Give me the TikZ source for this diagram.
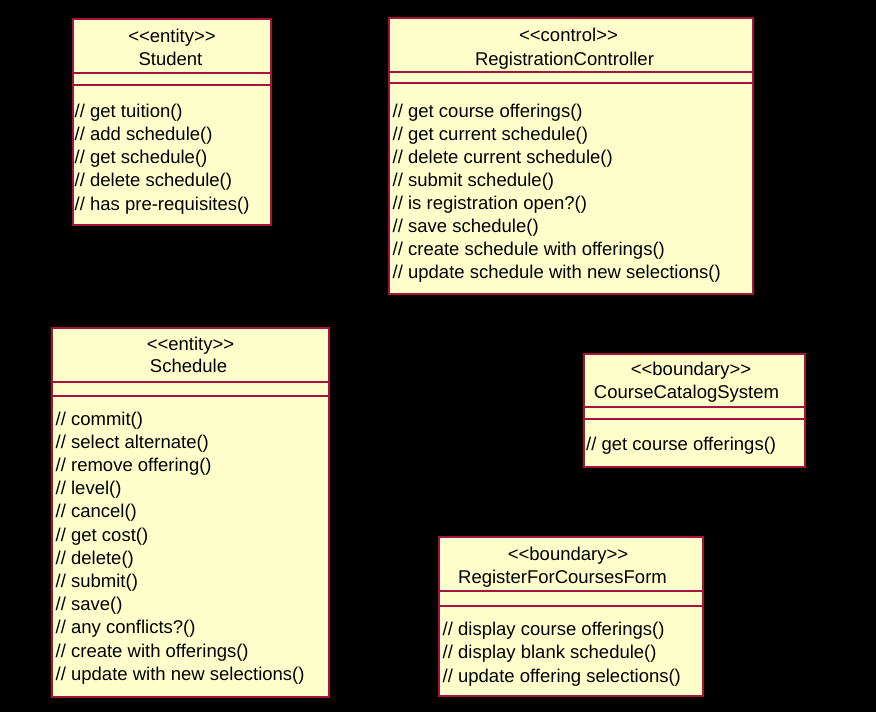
\documentclass[tikz,border=0pt]{standalone}
\usepackage{fontspec}
\newfontfamily\umlfont{Liberation Sans}
\definecolor{umlborder}{RGB}{165,20,60}
\definecolor{umlfill}{RGB}{255,255,204}
\tikzset{
  classbox/.style={draw=umlborder, fill=umlfill, line width=2pt, inner sep=0pt, anchor=north west},
  divider/.style={draw=umlborder, line width=1.5pt},
  hdr/.style={font=\umlfont\fontsize{18.5}{22}\selectfont, inner sep=0pt, anchor=base, text=black},
  oper/.style={font=\umlfont\fontsize{18.5}{22}\selectfont, inner sep=0pt, anchor=base west, text=black},
}
\begin{document}
\begin{tikzpicture}[x=1pt,y=-1pt]
\fill[black] (0,0) rectangle (876,712);
\useasboundingbox (0,0) rectangle (876,712);

% ---------- Student ----------
\node[classbox, minimum width=198pt, minimum height=206pt] (student) at (72,18) {};
\draw[divider] ([yshift=-55pt]student.north west) -- ([yshift=-55pt]student.north east);
\draw[divider] ([yshift=-67pt]student.north west) -- ([yshift=-67pt]student.north east);
\node[hdr] (student-st) at ([yshift=-24pt]student.north) {<<entity>>};
\node[hdr] (student-nm) at ([xshift=-1.5pt,yshift=-47pt]student.north) {Student};
\foreach \t [count=\i] in {// get tuition(), // add schedule(), // get schedule(), // delete schedule(), // has pre-requisites()}
  \node[oper] (student-op\i) at ([xshift=2.5pt,yshift={-(99+23.3*(\i-1))*1pt}]student.north west) {\t};

% ---------- RegistrationController ----------
\node[classbox, minimum width=364pt, minimum height=276pt] (regctrl) at (388,17) {};
\draw[divider] ([yshift=-55pt]regctrl.north west) -- ([yshift=-55pt]regctrl.north east);
\draw[divider] ([yshift=-66pt]regctrl.north west) -- ([yshift=-66pt]regctrl.north east);
\node[hdr] (regctrl-st) at ([xshift=-2.5pt,yshift=-24pt]regctrl.north) {<<control>>};
\node[hdr] (regctrl-nm) at ([xshift=-6.5pt,yshift=-48pt]regctrl.north) {RegistrationController};
\foreach \t [count=\i] in {// get course offerings(), // get current schedule(), // delete current schedule(), // submit schedule(), // is registration open?(), // save schedule(), // create schedule with offerings(), // update schedule with new selections()}
  \node[oper] (regctrl-op\i) at ([xshift=4.5pt,yshift={-(100+23.1*(\i-1))*1pt}]regctrl.north west) {\t};

% ---------- Schedule ----------
\node[classbox, minimum width=277pt, minimum height=369pt] (schedule) at (51,327) {};
\draw[divider] ([yshift=-55pt]schedule.north west) -- ([yshift=-55pt]schedule.north east);
\draw[divider] ([yshift=-69pt]schedule.north west) -- ([yshift=-69pt]schedule.north east);
\node[hdr] (schedule-st) at ([yshift=-23pt]schedule.north) {<<entity>>};
\node[hdr] (schedule-nm) at ([xshift=-2pt,yshift=-45pt]schedule.north) {Schedule};
\foreach \t [count=\i] in {// commit(), // select alternate(), // remove offering(), // level(), // cancel(), // get cost(), // delete(), // submit(), // save(), // any conflicts?(), // create with offerings(), // update with new selections()}
  \node[oper] (schedule-op\i) at ([xshift=4.5pt,yshift={-(98+23.2*(\i-1))*1pt}]schedule.north west) {\t};

% ---------- CourseCatalogSystem ----------
\node[classbox, minimum width=221pt, minimum height=113pt] (catalog) at (583,353) {};
\draw[divider] ([yshift=-54pt]catalog.north west) -- ([yshift=-54pt]catalog.north east);
\draw[divider] ([yshift=-66pt]catalog.north west) -- ([yshift=-66pt]catalog.north east);
\node[hdr] (catalog-st) at ([xshift=-3.5pt,yshift=-22pt]catalog.north) {<<boundary>>};
\node[hdr] (catalog-nm) at ([xshift=-8pt,yshift=-45pt]catalog.north) {CourseCatalogSystem};
\node[oper] (catalog-op1) at ([xshift=3pt,yshift=-97pt]catalog.north west) {// get course offerings()};

% ---------- RegisterForCoursesForm ----------
\node[classbox, minimum width=264pt, minimum height=159pt] (form) at (438,536) {};
\draw[divider] ([yshift=-55pt]form.north west) -- ([yshift=-55pt]form.north east);
\draw[divider] ([yshift=-70pt]form.north west) -- ([yshift=-70pt]form.north east);
\node[hdr] (form-st) at ([xshift=-3pt,yshift=-24pt]form.north) {<<boundary>>};
\node[hdr] (form-nm) at ([xshift=-8.5pt,yshift=-47pt]form.north) {RegisterForCoursesForm};
\foreach \t [count=\i] in {// display course offerings(), // display blank schedule(), // update offering selections()}
  \node[oper] (form-op\i) at ([xshift=4.5pt,yshift={-(99+23.5*(\i-1))*1pt}]form.north west) {\t};
\end{tikzpicture}
\end{document}
